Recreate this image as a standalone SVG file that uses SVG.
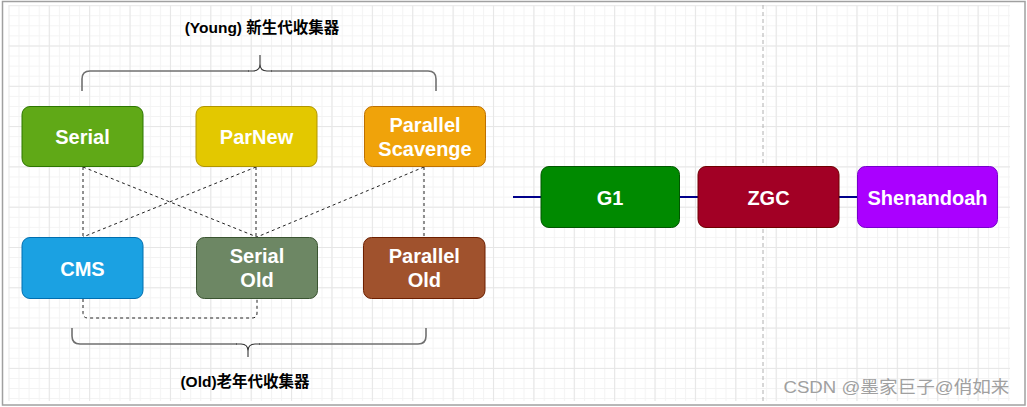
<svg xmlns="http://www.w3.org/2000/svg" width="1027" height="407" viewBox="0 0 1027 407">
  <defs>
    <pattern id="minor" x="8.4" y="5.2" width="10.1" height="10.075" patternUnits="userSpaceOnUse">
      <path d="M0.5 0 V10.075 M0 0.5 H10.1" fill="none" stroke="#f3f3f3" stroke-width="1"/>
    </pattern>
    <pattern id="major" x="8.4" y="5.2" width="40.38" height="40.3" patternUnits="userSpaceOnUse">
      <path d="M0.5 0 V40.3 M0 0.5 H40.38" fill="none" stroke="#e6e6e6" stroke-width="1"/>
    </pattern>
    <style>
      .node rect { stroke-width: 1; }
      .lbl { font-family: "Liberation Sans", Arial, Helvetica, sans-serif; font-weight: bold; font-size: 20px; fill: #ffffff; text-anchor: middle; }
      .title { font-family: "Liberation Sans", Arial, "Noto Sans CJK SC", sans-serif; font-weight: bold; font-size: 15.5px; fill: #000000; text-anchor: middle; }
      .dash { fill: none; stroke: #222222; stroke-width: 1; stroke-dasharray: 3 3; }
      .brace { fill: none; stroke: #707070; stroke-width: 1.6; }
      .tip { fill: none; stroke: #333333; stroke-width: 1.1; }
      .blue { stroke: #00008b; stroke-width: 2; }
    </style>
  </defs>

  <rect x="0" y="0" width="1027" height="407" fill="#ffffff"/>
  <g id="grid">
    <rect x="8.4" y="5.2" width="1001.6" height="395.8" fill="url(#minor)"/>
    <rect x="8.4" y="5.2" width="1001.6" height="395.8" fill="url(#major)"/>
  </g>
  <rect id="frame" x="2.5" y="1.5" width="1022.5" height="403.5" fill="none" stroke="#a0a0a0" stroke-width="1.5"/>

  <line id="divider" x1="763" y1="5" x2="763" y2="401" stroke="#b0b0b0" stroke-width="1" stroke-dasharray="4 3"/>

  <g id="braces">
    <path class="brace" d="M82 91 V79 Q82 71 90 71 H249 M271 71 H428 Q436 71 436 79 V91"/>
    <path class="tip" d="M248 71 H253 Q260 71 260 64 V55 M260 64 Q260 71 267 71 H272"/>
    <path class="brace" d="M72 328 V336 Q72 344 80 344 H237 M259 344 H418 Q426 344 426 336 V328"/>
    <path class="tip" d="M236 344 H241 Q248 344 248 351 V357 M248 351 Q248 344 255 344 H260"/>
  </g>

  <g id="connectors">
    <path class="dash" d="M83 167 V237"/>
    <path class="dash" d="M83 167 L257 237"/>
    <path class="dash" d="M256 167 L83 237"/>
    <path class="dash" d="M256 167 V237"/>
    <path class="dash" d="M424 167 L257 237"/>
    <path class="dash" d="M424 167 V237"/>
    <path class="dash" d="M83 299 V313 Q83 318 88 318 H252 Q257 318 257 313 V299"/>
    <line class="blue" x1="513" y1="197" x2="541" y2="197"/>
    <line class="blue" x1="679" y1="197" x2="698" y2="197"/>
    <line class="blue" x1="839" y1="197" x2="858" y2="197"/>
  </g>

  <g id="serial" class="node">
    <rect x="22" y="106.5" width="121" height="60" rx="8" fill="#60a917" stroke="#2d7600"/>
    <text class="lbl" x="82.5" y="143.5">Serial</text>
  </g>
  <g id="parnew" class="node">
    <rect x="196" y="106.5" width="121" height="60" rx="8" fill="#e3c800" stroke="#b09500"/>
    <text class="lbl" x="256.5" y="143.5">ParNew</text>
  </g>
  <g id="parallel-scavenge" class="node">
    <rect x="364.5" y="106.5" width="121" height="60" rx="8" fill="#f0a30a" stroke="#bd7000"/>
    <text class="lbl" x="425" y="131.5">Parallel</text>
    <text class="lbl" x="425" y="155.5">Scavenge</text>
  </g>
  <g id="cms" class="node">
    <rect x="22" y="237.5" width="121" height="61" rx="8" fill="#1ba1e2" stroke="#006eaf"/>
    <text class="lbl" x="82.5" y="275.5">CMS</text>
  </g>
  <g id="serial-old" class="node">
    <rect x="196.5" y="237.5" width="121" height="61" rx="8" fill="#6d8764" stroke="#3a5431"/>
    <text class="lbl" x="257" y="262.5">Serial</text>
    <text class="lbl" x="257" y="287">Old</text>
  </g>
  <g id="parallel-old" class="node">
    <rect x="363.5" y="237.5" width="121.5" height="61" rx="8" fill="#a0522d" stroke="#6d1f00"/>
    <text class="lbl" x="424.3" y="262.5">Parallel</text>
    <text class="lbl" x="424.3" y="287">Old</text>
  </g>
  <g id="g1" class="node">
    <rect x="541" y="166.5" width="138.5" height="61" rx="8" fill="#008a00" stroke="#005700"/>
    <text class="lbl" x="610" y="204.5">G1</text>
  </g>
  <g id="zgc" class="node">
    <rect x="698" y="166.5" width="141" height="61" rx="8" fill="#a20025" stroke="#6f0000"/>
    <text class="lbl" x="768.5" y="204.5">ZGC</text>
  </g>
  <g id="shenandoah" class="node">
    <rect x="857.5" y="166.5" width="140" height="61" rx="8" fill="#aa00ff" stroke="#7700cc"/>
    <text class="lbl" x="927.5" y="204.5">Shenandoah</text>
  </g>

  <g id="labels">
    <text class="title" x="262" y="32.5">(Young) 新生代收集器</text>
    <text class="title" x="245" y="387">(Old)老年代收集器</text>
  </g>

  <text id="watermark" x="783.5" y="393" font-family="'Liberation Sans', Arial, 'Noto Sans CJK SC', sans-serif" font-size="17" fill="#a0a0a0" textLength="226" lengthAdjust="spacingAndGlyphs">CSDN @墨家巨子@俏如来</text>
</svg>
